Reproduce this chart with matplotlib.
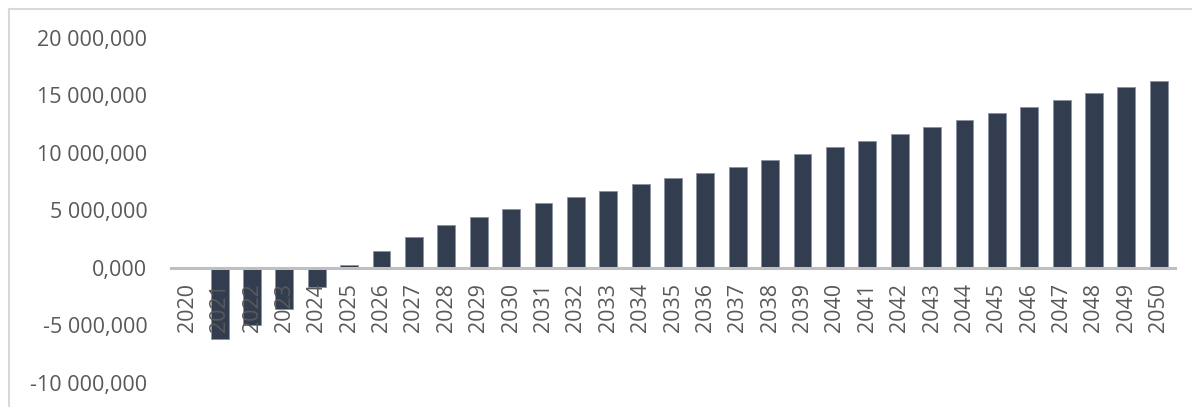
import matplotlib
matplotlib.use("Agg")
import matplotlib.pyplot as plt
from matplotlib.lines import Line2D
from matplotlib.ticker import FuncFormatter

years = [str(y) for y in range(2020, 2051)]
values = [
    0, -6150000, -4990000, -3540000, -1690000, 260000, 1450000, 2700000,
    3770000, 4460000, 5100000, 5630000, 6150000, 6700000, 7280000, 7800000,
    8230000, 8800000, 9370000, 9910000, 10500000, 11040000, 11680000,
    12260000, 12870000, 13480000, 14030000, 14640000, 15190000, 15740000,
    16290000,
]
y_ticks = [-10000000, -5000000, 0, 5000000, 10000000, 15000000, 20000000]

bar_color = "#333d50"
text_color = "#595959"

plt.rcParams["font.family"] = ["Open Sans", "DejaVu Sans"]

fig = plt.figure(figsize=(11.92, 4.07), dpi=100)
ax = fig.add_axes([0.1435, 1 - 383 / 407, 0.9857 - 0.1435, (383 - 38) / 407])

x = range(len(years))
ax.bar(x, values, width=0.55, color=bar_color, edgecolor="#8a93a3",
       linewidth=0.6, zorder=1)

ax.set_xlim(-0.5, len(years) - 0.5)
ax.set_ylim(-10000000, 20000000)


def fmt(v, _pos):
    m = int(round(v / 1e6))
    if m == 0:
        return "0,000"
    sign = "-" if m < 0 else ""
    return f"{sign}{abs(m)} 000,000"


for side in ("top", "right", "left"):
    ax.spines[side].set_visible(False)
ax.spines["bottom"].set_position(("data", 0))
ax.spines["bottom"].set_color("#bfbfbf")
ax.spines["bottom"].set_linewidth(2.2)
ax.spines["bottom"].set_zorder(3)

ax.set_yticks(y_ticks)
ax.yaxis.set_major_formatter(FuncFormatter(fmt))
ax.set_xticks(list(x))
ax.set_xticklabels(years)

ax.tick_params(axis="both", length=0, colors=text_color, labelsize=15.5)
ax.tick_params(axis="y", pad=17)
ax.tick_params(axis="x", pad=11, labelrotation=90)

# outer frame: top and left edges
fig.add_artist(Line2D([9 / 1192, 1.0], [1 - 9 / 407, 1 - 9 / 407],
                      transform=fig.transFigure, color="#d9d9d9", lw=1.5))
fig.add_artist(Line2D([9 / 1192, 9 / 1192], [0.0, 1 - 9 / 407],
                      transform=fig.transFigure, color="#d9d9d9", lw=1.5))

fig.savefig("out.png", dpi=100, facecolor="white")
